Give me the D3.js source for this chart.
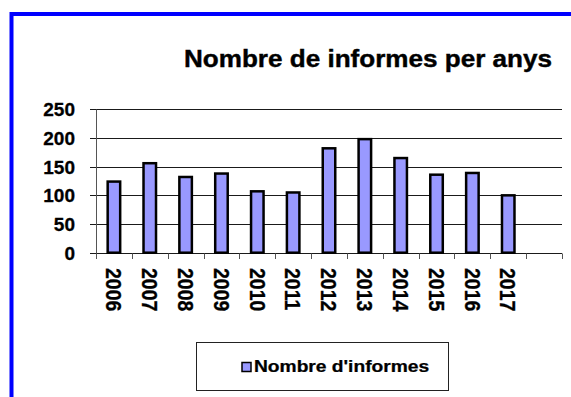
<!DOCTYPE html>
<html>
<head>
<meta charset="utf-8">
<script src="https://cdn.jsdelivr.net/npm/d3@7"></script>
<style>
  html, body { margin: 0; padding: 0; background: #fff; }
  svg { display: block; font-family: "Liberation Sans", Arial, sans-serif; font-weight: bold; }
</style>
</head>
<body>
<svg id="chart" width="571" height="397"></svg>
<script>
// Reports per year
const years = ["2006", "2007", "2008", "2009", "2010", "2011", "2012", "2013", "2014", "2015", "2016", "2017"];
const reports = [124, 156, 132, 138, 107, 105, 182, 198, 165, 136, 139, 100];
const yTicks = [0, 50, 100, 150, 200, 250];
const chartTitle = "Nombre de informes per anys";
const seriesName = "Nombre d'informes";

const svg = d3.select("#chart");

// outer frame
svg.append("rect")
  .attr("x", 11.5).attr("y", 14)
  .attr("width", 620).attr("height", 420)
  .attr("fill", "none")
  .attr("stroke", "#0000ff")
  .attr("stroke-width", 4);

const plot = { left: 96, right: 562, top: 109.3, bottom: 252.7 };

// one trailing empty slot after the last year
const x = d3.scaleBand()
  .domain([...years, ""])
  .range([plot.left, plot.right])
  .padding(0);

const y = d3.scaleLinear()
  .domain([0, 250])
  .range([plot.bottom, plot.top]);

// horizontal gridlines
svg.append("g")
  .selectAll("line")
  .data(yTicks)
  .join("line")
  .attr("x1", plot.left - 6)
  .attr("x2", plot.right)
  .attr("y1", d => Math.round(y(d)) + 0.5)
  .attr("y2", d => Math.round(y(d)) + 0.5)
  .attr("stroke", "#1a1a1a")
  .attr("stroke-width", 1);

// y axis line
svg.append("line")
  .attr("x1", plot.left + 0.5).attr("x2", plot.left + 0.5)
  .attr("y1", Math.round(y(250)) + 0.5)
  .attr("y2", Math.round(y(0)) + 0.5)
  .attr("stroke", "#555")
  .attr("stroke-width", 1);

// y tick labels
svg.append("g")
  .selectAll("text")
  .data(yTicks)
  .join("text")
  .attr("x", 75)
  .attr("y", d => y(d))
  .attr("dy", "0.36em")
  .attr("text-anchor", "end")
  .attr("font-size", 19)
  .attr("fill", "#000")
  .attr("stroke", "#000")
  .attr("stroke-width", 0.3)
  .text(d => d);

// x axis ticks at band boundaries
const boundaries = x.domain().map(d => x(d)).concat([plot.right]);
svg.append("g")
  .selectAll("line")
  .data(boundaries)
  .join("line")
  .attr("x1", d => Math.round(d) + 0.5)
  .attr("x2", d => Math.round(d) + 0.5)
  .attr("y1", Math.round(y(0)) + 0.5)
  .attr("y2", Math.round(y(0)) + 6)
  .attr("stroke", "#555")
  .attr("stroke-width", 1);

// bars
const barW = 12.5;
svg.append("g")
  .selectAll("rect")
  .data(years.map((yr, i) => ({ yr, v: reports[i] })))
  .join("rect")
  .attr("x", d => x(d.yr) + x.bandwidth() / 2 - barW / 2)
  .attr("y", d => y(d.v))
  .attr("width", barW)
  .attr("height", d => y(0) - y(d.v))
  .attr("fill", "#9999ff")
  .attr("stroke", "#000")
  .attr("stroke-width", 2.5);

// rotated year labels
svg.append("g")
  .selectAll("text")
  .data(years)
  .join("text")
  .attr("transform", d => `translate(${x(d) + x.bandwidth() / 2},268) rotate(90) scale(1,1.1)`)
  .attr("dy", "0.36em")
  .attr("text-anchor", "start")
  .attr("font-size", 19.5)
  .attr("fill", "#000")
  .attr("stroke", "#000")
  .attr("stroke-width", 0.3)
  .text(d => d);

// title
svg.append("text")
  .attr("transform", "translate(368,66.5) scale(1.11,1)")
  .attr("text-anchor", "middle")
  .attr("font-size", 23.5)
  .attr("fill", "#000")
  .attr("stroke", "#000")
  .attr("stroke-width", 0.4)
  .text(chartTitle);

// legend
const legend = svg.append("g");
legend.append("rect")
  .attr("x", 196.5).attr("y", 342.5)
  .attr("width", 252).attr("height", 48)
  .attr("fill", "#fff")
  .attr("stroke", "#222")
  .attr("stroke-width", 1);
legend.append("rect")
  .attr("x", 242).attr("y", 362.5)
  .attr("width", 9).attr("height", 9)
  .attr("fill", "#9999ff")
  .attr("stroke", "#000")
  .attr("stroke-width", 1.5);
legend.append("text")
  .attr("transform", "translate(254,372.3) scale(1.2,1)")
  .attr("font-size", 16)
  .attr("fill", "#000")
  .attr("stroke", "#000")
  .attr("stroke-width", 0.25)
  .text(seriesName);
</script>
</body>
</html>
